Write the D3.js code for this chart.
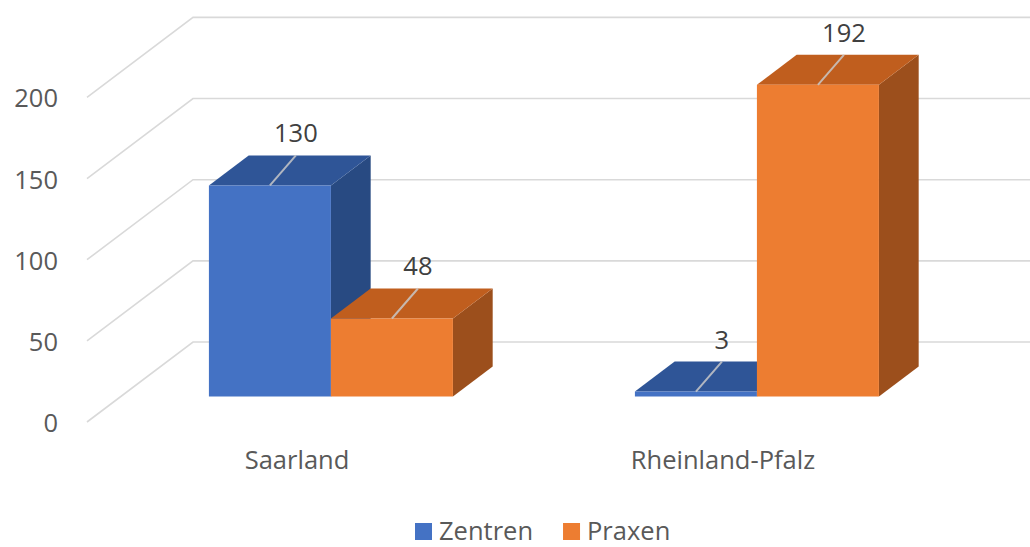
<!DOCTYPE html>
<html>
<head>
<meta charset="utf-8">
<script src="https://cdn.jsdelivr.net/npm/d3@7"></script>
<style>
  html, body { margin: 0; padding: 0; background: #fff; }
  svg { display: block; font-family: "Open Sans", "Noto Sans", sans-serif; }
</style>
</head>
<body>
<svg id="chart" width="1030" height="547"></svg>
<script>
// Chart data
const categories = ["Saarland", "Rheinland-Pfalz"];
const seriesNames = ["Zentren", "Praxen"];
const zentren = [130, 3];
const praxen = [48, 192];
const yTicks = [0, 50, 100, 150, 200];

const seriesValues = [zentren, praxen];
const colors = [
  { front: "#4472C4", top: "#2F5597", side: "#284A82", legend: "#4472C4" },
  { front: "#ED7D31", top: "#C05E1E", side: "#9C4F1C", legend: "#ED7D31" }
];

const W = 1030, H = 547;
const svg = d3.select("#chart");

// Oblique 3D projection: floor front edge at floorY, depth vector (depthX, depthY)
const floorY = 422;
const wallX = 87;
const depthX = 106, depthY = -80;
const barZ0 = 0.32, barZ1 = 0.695;

const yScale = d3.scaleLinear().domain([0, 200]).range([0, 324.6]);
const x0 = d3.scaleBand().domain(categories).range([84, 936])
  .paddingInner(0.4272).paddingOuter(0.2136);
const x1 = d3.scaleBand().domain(seriesNames).range([0, x0.bandwidth()]);

const proj = (x, v, z) => [x + z * depthX, floorY - yScale(v) + z * depthY];

// Gridlines: side wall diagonals and back wall horizontals
const grid = svg.append("g").attr("stroke", "#d9d9d9").attr("stroke-width", 1.6).attr("fill", "none");
yTicks.forEach(t => {
  const a = proj(wallX, t, 0), b = proj(wallX, t, 1), c = proj(W + 20, t, 1);
  grid.append("polyline").attr("points", [a, b, c].map(p => p.join(",")).join(" "));
});

// Y tick labels
svg.append("g").selectAll("text").data(yTicks).join("text")
  .attr("x", 58).attr("y", d => floorY - yScale(d))
  .attr("text-anchor", "end").attr("dominant-baseline", "central")
  .attr("font-size", 25.5).attr("fill", "#595959")
  .text(d => d);

// Bars: one group per category, series drawn left to right
const bars = svg.append("g");
const labelLayer = svg.append("g");
categories.forEach((cat, ci) => {
  seriesNames.forEach((s, si) => {
    const v = seriesValues[si][ci];
    const xl = x0(cat) + x1(s);
    const xr = xl + x1.bandwidth();
    const c = colors[si];
    const pts = arr => arr.map(p => p.join(",")).join(" ");
    const g = bars.append("g");
    // right side face
    g.append("polygon").attr("fill", c.side).attr("points", pts([
      proj(xr, 0, barZ0), proj(xr, 0, barZ1), proj(xr, v, barZ1), proj(xr, v, barZ0)
    ]));
    // top face
    g.append("polygon").attr("fill", c.top).attr("points", pts([
      proj(xl, v, barZ0), proj(xr, v, barZ0), proj(xr, v, barZ1), proj(xl, v, barZ1)
    ]));
    // front face
    g.append("polygon").attr("fill", c.front).attr("points", pts([
      proj(xl, 0, barZ0), proj(xr, 0, barZ0), proj(xr, v, barZ0), proj(xl, v, barZ0)
    ]));
    // leader line + value label
    const cx = (xl + xr) / 2;
    const ft = proj(cx, v, barZ0);
    const bk = proj(cx, v, barZ1);
    const lx = ft[0] + 26;
    g.append("line").attr("x1", ft[0]).attr("y1", ft[1]).attr("x2", lx).attr("y2", bk[1])
      .attr("stroke", "#c8c8c8").attr("stroke-opacity", 0.85).attr("stroke-width", 2);
    labelLayer.append("text").attr("x", lx).attr("y", bk[1] - 13)
      .attr("text-anchor", "middle").attr("font-size", 25.5).attr("fill", "#404040")
      .text(v);
  });
});
labelLayer.raise();

// Category labels at the front edge of the floor
svg.append("g").selectAll("text").data(categories).join("text")
  .attr("x", d => x0(d) + x0.bandwidth() / 2).attr("y", 469)
  .attr("text-anchor", "middle").attr("font-size", 25.5).attr("fill", "#595959")
  .text(d => d);

// Legend
const legend = svg.append("g").attr("transform", "translate(415,540)");
let lxPos = 0;
seriesNames.forEach((s, i) => {
  const item = legend.append("g").attr("transform", `translate(${lxPos},0)`);
  item.append("rect").attr("x", 0).attr("y", -17).attr("width", 17).attr("height", 17)
    .attr("fill", colors[i].legend);
  const t = item.append("text").attr("x", 24).attr("y", 0)
    .attr("font-size", 25.5).attr("fill", "#595959").text(s);
  lxPos += 24 + t.node().getComputedTextLength() + 30;
});
</script>
</body>
</html>
